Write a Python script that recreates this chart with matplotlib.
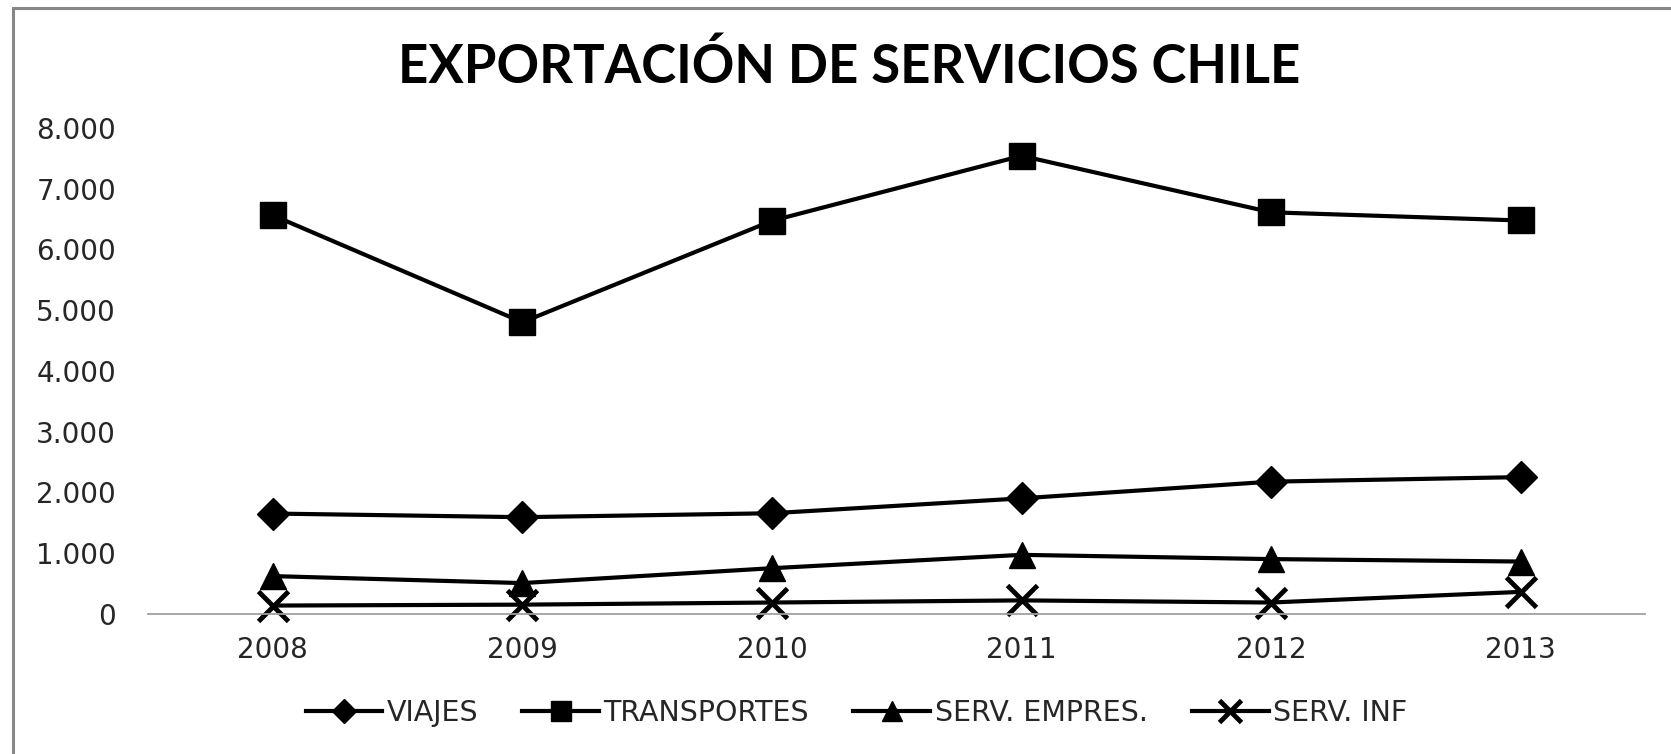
import matplotlib
matplotlib.use("Agg")
import matplotlib.pyplot as plt
from matplotlib.patches import Rectangle
from matplotlib.ticker import FuncFormatter

years = ["2008", "2009", "2010", "2011", "2012", "2013"]
viajes = [1650, 1590, 1655, 1900, 2175, 2250]
transportes = [6560, 4800, 6470, 7540, 6610, 6475]
serv_empres = [620, 505, 750, 970, 900, 860]
serv_inf = [135, 150, 185, 220, 185, 360]

plt.rcParams["font.family"] = ["DejaVu Sans"]

fig = plt.figure(figsize=(16.71, 7.54), dpi=100)
ax = fig.add_axes([0.0886, 0.186, 0.8961, 0.6444])

x = range(len(years))
ax.plot(x, viajes, color="black", lw=3, marker="D", ms=16, label="VIAJES")
ax.plot(x, transportes, color="black", lw=3, marker="s", ms=19, label="TRANSPORTES")
ax.plot(x, serv_empres, color="black", lw=3, marker="^", ms=19, label="SERV. EMPRES.")
ax.plot(x, serv_inf, color="black", lw=3, marker="x", ms=21, mew=3.5, label="SERV. INF")

ax.set_xlim(-0.5, len(years) - 0.5)
ax.set_ylim(0, 8000)
ax.set_yticks(range(0, 8001, 1000))
ax.yaxis.set_major_formatter(FuncFormatter(lambda v, p: f"{int(v):,}".replace(",", ".")))
ax.set_xticks(list(x))
ax.set_xticklabels(years)
ax.tick_params(length=0, labelsize=20, colors="#262626")
ax.tick_params(axis="y", pad=23)
ax.tick_params(axis="x", pad=16)

for s in ["top", "right", "left"]:
    ax.spines[s].set_visible(False)
ax.spines["bottom"].set_color("#a0a0a0")
ax.spines["bottom"].set_linewidth(1.3)
for line in ax.lines:
    line.set_clip_on(False)

fig.text(0.508, 0.911, "EXPORTACIÓN DE SERVICIOS CHILE", ha="center", va="center",
         fontsize=38, fontweight="bold", family="Lato")

leg = ax.legend(loc="center", bbox_to_anchor=(0.473, -0.205), ncol=4, frameon=False,
                fontsize=20.5, handlelength=2.7, columnspacing=1.55, handletextpad=0.15,
                markerscale=0.75)
for t in leg.get_texts():
    t.set_color("#262626")

fig.patches.append(Rectangle((13 / 1671, -0.1), 1.2, 1 - 8 / 754 + 0.1,
                             transform=fig.transFigure, fill=False,
                             edgecolor="#878787", lw=2.2))

fig.savefig("out.png", dpi=100)
